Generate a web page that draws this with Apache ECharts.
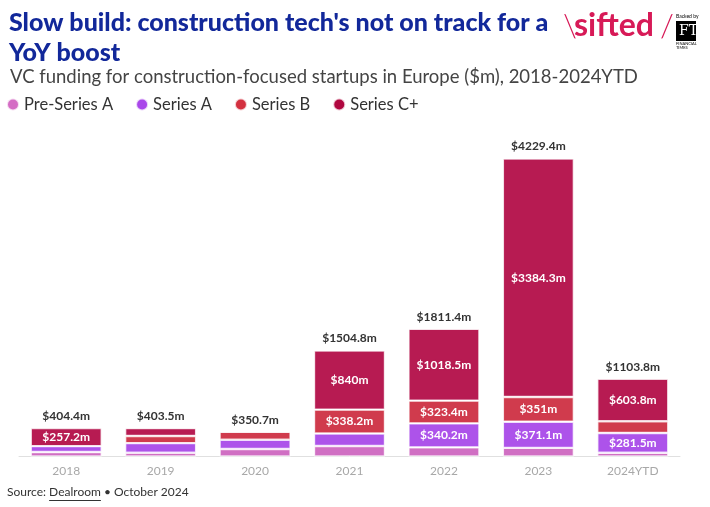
<!DOCTYPE html>
<html>
<head>
<meta charset="utf-8">
<script src="https://cdn.jsdelivr.net/npm/echarts@6/dist/echarts.min.js"></script>
<style>
html,body{margin:0;padding:0;background:#fff;}
#chart{width:710px;height:507px;}
</style>
</head>
<body>
<div id="chart"></div>
<script>
// ---- data ----
const categories = ['2018', '2019', '2020', '2021', '2022', '2023', '2024YTD'];
const preSeriesA = [63.2, 53.5, 106.2, 149.2, 129.3, 123.0, 52.5];
const seriesA    = [84.0, 136.0, 131.5, 177.4, 340.2, 371.1, 281.5];
const seriesB    = [0, 102.0, 113.0, 338.2, 323.4, 351.0, 166.0];
const seriesC    = [257.2, 112.0, 0, 840.0, 1018.5, 3384.3, 603.8];
const totals     = [404.4, 403.5, 350.7, 1504.8, 1811.4, 4229.4, 1103.8];
const seriesNames = ['Pre-Series A', 'Series A', 'Series B', 'Series C+'];
const labelThreshold = 250;

const colors = ['#d06fc3', '#ad53ea', '#d03b4d', '#b71b52'];
const legendColors = ['#d46cc4', '#a947ea', '#d3303f', '#b0073f'];
const FONT = 'Lato, "Noto Sans", sans-serif';

function fmt(v) { return '$' + (Math.round(v * 10) / 10) + 'm'; }

// text measurement for source line placement
const mctx = document.createElement('canvas').getContext('2d');
function tw(text, font) { mctx.font = font; return mctx.measureText(text).width; }
const SRC_FONT = '12px ' + FONT;
const srcX = 7;
const w1 = tw('Source: ', SRC_FONT);
const w2 = tw('Dealroom', SRC_FONT);

const chart = echarts.init(document.getElementById('chart'));

const dataSets = [preSeriesA, seriesA, seriesB, seriesC];
const series = dataSets.map((arr, i) => ({
  name: seriesNames[i],
  type: 'bar',
  stack: 'total',
  barWidth: 71,
  data: arr,
  itemStyle: { color: colors[i], borderColor: 'rgba(255,255,255,0.75)', borderWidth: 1.2 },
  label: {
    show: true,
    position: 'inside',
    fontFamily: FONT,
    fontWeight: 'bold',
    fontSize: 12,
    color: '#fff',
    textBorderColor: colors[i],
    textBorderWidth: 2.5,
    formatter: p => (p.value >= labelThreshold ? fmt(p.value) : '')
  },
  emphasis: { disabled: true }
}));

series.push({
  name: 'Total',
  type: 'bar',
  stack: 'total',
  barWidth: 71,
  data: categories.map(() => 0),
  itemStyle: { color: 'transparent' },
  label: {
    show: true,
    position: 'top',
    distance: 6,
    fontFamily: FONT,
    fontWeight: 'bold',
    fontSize: 12,
    color: '#333',
    formatter: p => fmt(totals[p.dataIndex])
  },
  emphasis: { disabled: true }
});

const option = {
  backgroundColor: '#fff',
  animation: false,
  title: [
    {
      text: "Slow build: construction tech's not on track for a\nYoY boost",
      left: 4, top: 3,
      textStyle: { fontFamily: FONT, fontSize: 25, fontWeight: 900, color: '#12289a', lineHeight: 30 }
    },
    {
      text: 'VC funding for construction-focused startups in Europe ($m), 2018-2024YTD',
      left: 5, top: 63,
      textStyle: { fontFamily: FONT, fontSize: 18.5, fontWeight: 'normal', color: '#444' }
    }
  ],
  legend: {
    data: seriesNames.map((n, i) => ({ name: n, itemStyle: { color: legendColors[i] } })),
    left: 6, top: 96,
    padding: 0,
    icon: 'circle',
    itemWidth: 12, itemHeight: 12,
    itemGap: 22,
    textStyle: { fontFamily: FONT, fontSize: 16.5, color: '#333' },
    selectedMode: false
  },
  grid: { left: 19, right: 30, top: 139.4, bottom: 50.5, containLabel: false },
  xAxis: {
    type: 'category',
    data: categories,
    axisLine: { lineStyle: { color: '#e0e0e0' } },
    axisTick: { alignWithLabel: true, length: 5, lineStyle: { color: '#e0e0e0' } },
    axisLabel: { fontFamily: FONT, fontSize: 12, color: '#a8a8a8', margin: 9 }
  },
  yAxis: { type: 'value', min: 0, max: 4500, show: false, splitLine: { show: false } },
  graphic: [
    {
      type: 'text', left: srcX, top: 486,
      style: { text: 'Source: ', font: SRC_FONT, fill: '#333' }
    },
    {
      type: 'text', left: srcX + w1, top: 486,
      style: { text: 'Dealroom', font: SRC_FONT, fill: '#333' }
    },
    {
      type: 'line', shape: { x1: srcX + w1, y1: 500.5, x2: srcX + w1 + w2, y2: 500.5 },
      style: { stroke: '#333', lineWidth: 1 }
    },
    {
      type: 'text', left: srcX + w1 + w2, top: 486,
      style: { text: ' \u2022 October 2024', font: SRC_FONT, fill: '#333' }
    },
    // sifted logo
    {
      type: 'text', left: 563, top: 11,
      style: { text: '\\', font: '300 32px ' + FONT, fill: '#d71a57' }
    },
    {
      type: 'text', left: 574, top: 10,
      style: { text: 'sifted', font: 'bold 32px ' + FONT, fill: '#d71a57' }
    },
    {
      type: 'text', left: 660, top: 11,
      style: { text: '/', font: '300 32px ' + FONT, fill: '#d71a57' }
    },
    {
      type: 'text', left: 676, top: 14,
      style: { text: 'Backed by', font: '5px ' + FONT, fill: '#000' }
    },
    {
      type: 'rect', shape: { x: 676, y: 21, width: 20, height: 20 },
      style: { fill: '#000' }
    },
    {
      type: 'text', left: 679, top: 24,
      style: { text: 'FT', font: '14px "DejaVu Serif", "Liberation Serif", serif', fill: '#fff' }
    },
    {
      type: 'text', left: 676, top: 42,
      style: { text: 'FINANCIAL\nTIMES', font: '4px ' + FONT, fill: '#000', lineHeight: 4 }
    }
  ],
  series: series
};

chart.setOption(option);
</script>
</body>
</html>
